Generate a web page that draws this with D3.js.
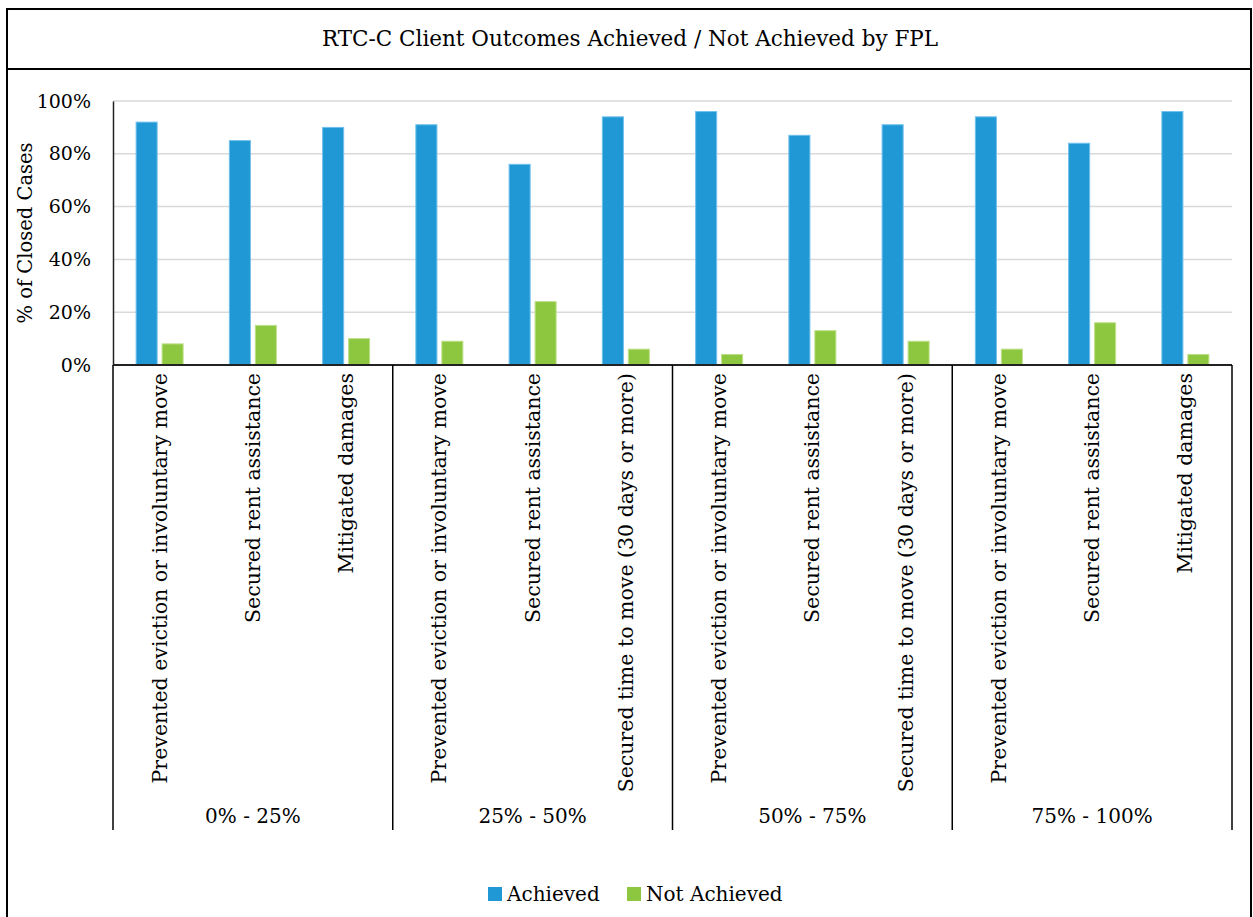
<!DOCTYPE html>
<html><head><meta charset="utf-8">
<script src="https://cdn.jsdelivr.net/npm/d3@7"></script>
<style>
html,body{margin:0;padding:0;background:#fff;}
svg{display:block;}
text{font-family:"DejaVu Serif", serif;fill:#000;}
</style></head>
<body>
<svg id="chart" width="1253" height="917"></svg>
<script>
const chartTitle = "RTC-C Client Outcomes Achieved / Not Achieved by FPL";
const yTitle = "% of Closed Cases";
const seriesNames = ["Achieved", "Not Achieved"];
const seriesColors = ["#1F98D5", "#8DC63F"];
const seriesStroke = ["#6FC0EC", "#BFE08A"];
const groupLabels = ["0% - 25%", "25% - 50%", "50% - 75%", "75% - 100%"];
const outcomeLabels = [
  "Prevented eviction or involuntary move", "Secured rent assistance", "Mitigated damages",
  "Prevented eviction or involuntary move", "Secured rent assistance", "Secured time to move (30 days or more)",
  "Prevented eviction or involuntary move", "Secured rent assistance", "Secured time to move (30 days or more)",
  "Prevented eviction or involuntary move", "Secured rent assistance", "Mitigated damages"
];
const outcomeGroup = [0,0,0,1,1,1,2,2,2,3,3,3];
const achieved =    [92, 85, 90, 91, 76, 94, 96, 87, 91, 94, 84, 96];
const notAchieved = [ 8, 15, 10,  9, 24,  6,  4, 13,  9,  6, 16,  4];
const yTicks = [0, 20, 40, 60, 80, 100];

const svg = d3.select("#chart");
const W = 1253, H = 917;
const plot = {left: 113, right: 1232, top: 101, bottom: 365};

// frame
svg.append("rect").attr("x", 7).attr("y", 9).attr("width", 1244).attr("height", H + 10)
  .attr("fill", "none").attr("stroke", "#000").attr("stroke-width", 2);
svg.append("line").attr("x1", 7).attr("x2", 1251).attr("y1", 69).attr("y2", 69)
  .attr("stroke", "#000").attr("stroke-width", 2);
svg.append("text").attr("x", 630).attr("y", 46).attr("text-anchor", "middle")
  .style("font-size", "21.5px").text(chartTitle);

const idx = d3.range(outcomeLabels.length);
const x = d3.scaleBand().domain(idx).range([plot.left, plot.right]).padding(0);
const x1 = d3.scaleBand().domain(seriesNames).range([0, x.bandwidth()])
  .paddingInner(0.19).paddingOuter(0.89);
const y = d3.scaleLinear().domain([0, 100]).range([plot.bottom, plot.top]);
const gx = d3.scaleBand().domain(d3.range(groupLabels.length)).range([plot.left, plot.right]);

// gridlines
svg.append("g").selectAll("line").data(yTicks.filter(t => t > 0)).join("line")
  .attr("x1", plot.left).attr("x2", plot.right)
  .attr("y1", d => y(d)).attr("y2", d => y(d))
  .attr("stroke", "#D9D9D9").attr("stroke-width", 1.5);

// y axis
const yAxis = d3.axisLeft(y).tickValues(yTicks).tickFormat(d => d + "%").tickSize(0).tickPadding(22);
const ya = svg.append("g").attr("transform", `translate(${plot.left},0)`).call(yAxis);
ya.select(".domain").attr("stroke", "#222").attr("stroke-width", 1.5);
ya.selectAll("text").style("font-family", "DejaVu Serif").style("font-size", "19px").attr("fill", "#000");

svg.append("text").attr("transform", `translate(32,${(plot.top + plot.bottom) / 2}) rotate(-90)`)
  .attr("text-anchor", "middle").style("font-size", "19.5px").text(yTitle);

// bars
const series = [achieved, notAchieved];
series.forEach((vals, si) => {
  svg.append("g").selectAll("rect").data(idx).join("rect")
    .attr("x", i => x(i) + x1(seriesNames[si]))
    .attr("width", x1.bandwidth())
    .attr("y", i => y(vals[i]))
    .attr("height", i => y(0) - y(vals[i]))
    .attr("fill", seriesColors[si])
    .attr("stroke", seriesStroke[si]).attr("stroke-width", 1);
});

// x axis line
svg.append("line").attr("x1", plot.left).attr("x2", plot.right)
  .attr("y1", y(0)).attr("y2", y(0)).attr("stroke", "#222").attr("stroke-width", 2);

// group dividers
const divX = d3.range(groupLabels.length + 1).map(g => g < groupLabels.length ? gx(g) : gx(g - 1) + gx.bandwidth());
svg.append("g").selectAll("line").data(divX).join("line")
  .attr("x1", d => d).attr("x2", d => d).attr("y1", y(0)).attr("y2", 830)
  .attr("stroke", "#000").attr("stroke-width", 1.5);

// category labels
svg.append("g").selectAll("text").data(idx).join("text")
  .attr("transform", i => `translate(${x(i) + x.bandwidth() / 2 + 7},373) rotate(-90)`)
  .attr("text-anchor", "end").style("font-size", "20.5px")
  .text(i => outcomeLabels[i]);

// group labels
svg.append("g").selectAll("text").data(d3.range(groupLabels.length)).join("text")
  .attr("x", g => gx(g) + gx.bandwidth() / 2).attr("y", 823)
  .attr("text-anchor", "middle").style("font-size", "20px")
  .text(g => groupLabels[g]);

// legend
const legend = svg.append("g").attr("transform", "translate(488,887)");
const legX = [0, 139];
seriesNames.forEach((s, i) => {
  legend.append("rect").attr("x", legX[i]).attr("y", 0).attr("width", 14).attr("height", 14)
    .attr("fill", seriesColors[i]);
  legend.append("text").attr("x", legX[i] + 19).attr("y", 14).style("font-size", "20px").text(s);
});
</script>
</body></html>
